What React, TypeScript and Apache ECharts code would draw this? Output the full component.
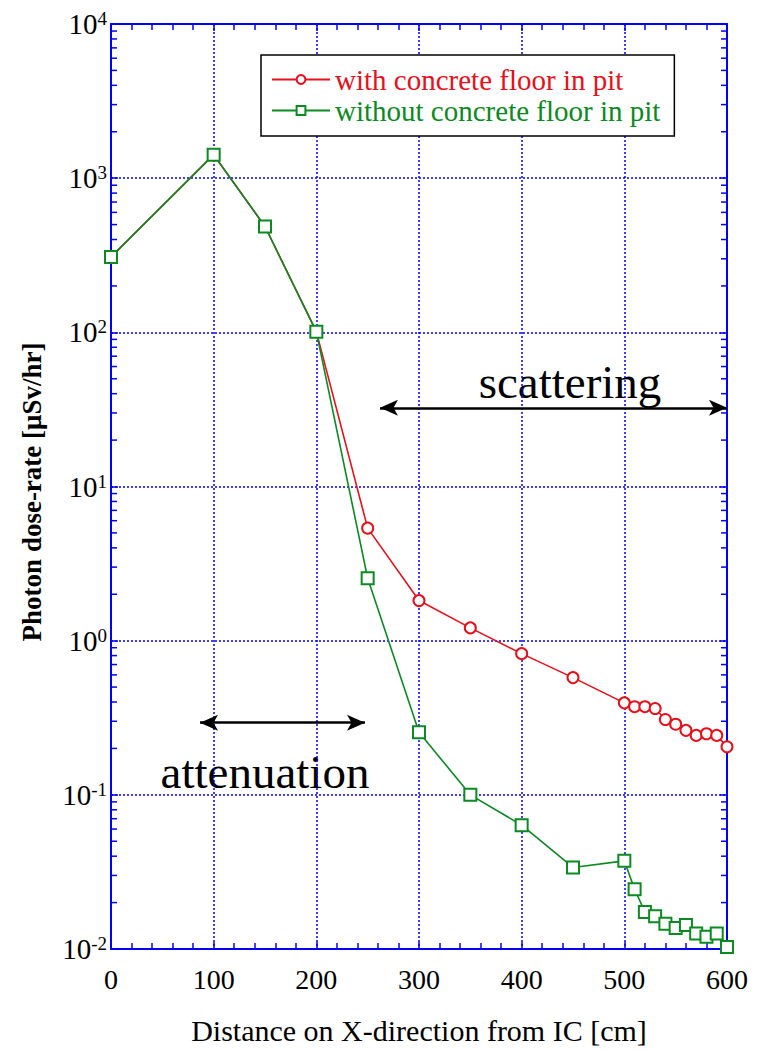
import React, { useEffect, useRef } from 'react';
import * as echarts from 'echarts';

const distances = [0, 100, 150, 200, 250, 300, 350, 400, 450, 500, 510, 520, 530, 540, 550, 560, 570, 580, 590, 600];
const withFloor = [308, 1420, 486, 101, 5.37, 1.82, 1.21, 0.824, 0.576, 0.395, 0.373, 0.373, 0.363, 0.308, 0.287, 0.262, 0.243, 0.249, 0.243, 0.205];
const withoutFloor = [308, 1420, 486, 101, 2.54, 0.255, 0.100, 0.0636, 0.0338, 0.0373, 0.0244, 0.0174, 0.0163, 0.0146, 0.0137, 0.0143, 0.0126, 0.0120, 0.0126, 0.0103];
const seriesNames = ['with concrete floor in pit', 'without concrete floor in pit'];
const xMin = 0, xMax = 600, xStep = 100;
const yMin = 0.01, yMax = 10000;
const decades = [-2, -1, 0, 1, 2, 3];
const minorMultipliers = [2, 3, 4, 5, 6, 7, 8, 9];
const scatterArrow = { x0: 262, x1: 600, y: 32.4 };
const attenArrow = { x0: 86.7, x1: 247.4, y: 0.294 };

const RED = '#e8101a';
const GREEN = '#0b8a22';
const BLUE = '#0000ff';
const FONT = 'Liberation Serif, serif';

export default function App() {
  const ref = useRef<HTMLDivElement>(null);
  useEffect(() => {
    document.body.style.margin = '0';
    const chart = echarts.init(ref.current!, null, { renderer: 'svg' });
    const minorTickData: number[][] = [];
    decades.forEach((d) => minorMultipliers.forEach((m) => minorTickData.push([xMin, m * Math.pow(10, d)])));

    const xAxisBase = {
      type: 'value',
      min: xMin,
      max: xMax,
      interval: xStep,
      axisLine: { show: true, onZero: false, lineStyle: { color: BLUE, width: 2 } },
      axisTick: { show: true, inside: true, length: 7, lineStyle: { color: BLUE, width: 1.5 } },
      minorTick: { show: true, splitNumber: 5, length: 6, lineStyle: { color: BLUE, width: 1.5 } },
    };
    const yAxisBase = {
      type: 'log',
      logBase: 10,
      min: yMin,
      max: yMax,
      axisLine: { show: true, onZero: false, lineStyle: { color: BLUE, width: 2 } },
      axisTick: { show: true, inside: true, length: 7, lineStyle: { color: BLUE, width: 1.5 } },
    };

    chart.setOption({
      animation: false,
      textStyle: { fontFamily: FONT },
      grid: { left: 111, right: 36, top: 24, bottom: 88, containLabel: false },
      legend: {
        show: true,
        left: 261,
        top: 55,
        orient: 'vertical',
        backgroundColor: '#fff',
        borderColor: '#000',
        borderWidth: 1.5,
        borderRadius: 0,
        padding: [10, 14, 11, 10],
        itemWidth: 58,
        itemHeight: 11,
        itemGap: 2,
        textStyle: { fontFamily: FONT, fontSize: 29, lineHeight: 29 },
        data: [
          { name: seriesNames[0], textStyle: { color: RED } },
          { name: seriesNames[1], textStyle: { color: GREEN } },
        ],
      },
      xAxis: [
        {
          ...xAxisBase,
          position: 'bottom',
          name: 'Distance on X-direction from IC [cm]',
          nameLocation: 'middle',
          nameGap: 66,
          nameTextStyle: { fontFamily: FONT, fontSize: 30, color: '#000' },
          axisLabel: { show: true, margin: 16, fontFamily: FONT, fontSize: 28, color: '#000' },
          splitLine: { show: true, lineStyle: { color: BLUE, width: 1.5, type: [2, 2] } },
        },
        {
          ...xAxisBase,
          position: 'top',
          axisLabel: { show: false },
          splitLine: { show: false },
        },
      ],
      yAxis: [
        {
          ...yAxisBase,
          position: 'left',
          axisLabel: {
            show: true,
            margin: 4,
            formatter: (v: number) => `{b|10}{s|${Math.round(Math.log10(v))}}`,
            rich: {
              b: { fontFamily: FONT, fontSize: 29, lineHeight: 30, color: '#000', verticalAlign: 'middle' },
              s: { fontFamily: FONT, fontSize: 19, lineHeight: 19, color: '#000', verticalAlign: 'top' },
            },
          },
          splitLine: { show: true, lineStyle: { color: BLUE, width: 1.5, type: [2, 2] } },
        },
        {
          ...yAxisBase,
          position: 'right',
          axisLabel: { show: false },
          splitLine: { show: false },
        },
      ],
      graphic: [
        {
          type: 'text',
          x: 32,
          y: 492,
          rotation: Math.PI / 2,
          style: {
            text: 'Photon dose-rate [μSv/hr]',
            fontFamily: FONT,
            fontSize: 27,
            fontWeight: 'bold',
            fill: '#000',
            align: 'center',
            verticalAlign: 'middle',
          },
        },
        {
          type: 'text',
          x: 570,
          y: 382,
          style: { text: 'scattering', fontFamily: FONT, fontSize: 47, fill: '#000', align: 'center', verticalAlign: 'middle' },
        },
        {
          type: 'text',
          x: 265,
          y: 772,
          style: { text: 'attenuation', fontFamily: FONT, fontSize: 47, fill: '#000', align: 'center', verticalAlign: 'middle' },
        },
      ],
      series: [
        {
          name: seriesNames[0],
          type: 'line',
          xAxisIndex: 0,
          yAxisIndex: 0,
          data: distances.map((d, i) => [d, withFloor[i]]),
          symbol: 'emptyCircle',
          symbolSize: 11,
          color: RED,
          lineStyle: { color: RED, width: 1.6 },
          itemStyle: { color: RED, borderColor: RED, borderWidth: 1.6 },
          markLine: {
            silent: true,
            symbol: ['arrow', 'arrow'],
            symbolSize: [12, 18],
            label: { show: false },
            lineStyle: { color: '#000', width: 2.5, type: 'solid' },
            data: [
              [{ coord: [scatterArrow.x0, scatterArrow.y] }, { coord: [scatterArrow.x1, scatterArrow.y] }],
              [{ coord: [attenArrow.x0, attenArrow.y] }, { coord: [attenArrow.x1, attenArrow.y] }],
            ],
          },
        },
        {
          name: seriesNames[1],
          type: 'line',
          xAxisIndex: 0,
          yAxisIndex: 0,
          data: distances.map((d, i) => [d, withoutFloor[i]]),
          symbol: 'emptyRect',
          symbolSize: 12,
          color: GREEN,
          lineStyle: { color: GREEN, width: 1.6 },
          itemStyle: { color: GREEN, borderColor: GREEN, borderWidth: 1.6 },
        },
        {
          name: 'minorTicks',
          type: 'custom',
          xAxisIndex: 0,
          yAxisIndex: 0,
          silent: true,
          clip: false,
          data: minorTickData,
          renderItem: (params: any, api: any) => {
            const v = api.value(1);
            const l = api.coord([xMin, v]);
            const r = api.coord([xMax, v]);
            const style = { stroke: BLUE, lineWidth: 1.5 };
            return {
              type: 'group',
              children: [
                { type: 'line', shape: { x1: l[0], y1: l[1], x2: l[0] + 6, y2: l[1] }, style },
                { type: 'line', shape: { x1: r[0], y1: r[1], x2: r[0] - 6, y2: r[1] }, style },
              ],
            };
          },
        },
      ],
    });
    return () => chart.dispose();
  }, []);
  return <div ref={ref} style={{ width: 763, height: 1050, position: 'absolute', left: 0, top: 0 }} />;
}
